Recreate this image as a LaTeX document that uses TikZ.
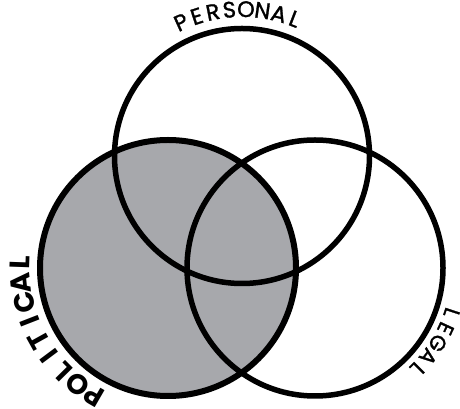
\documentclass[tikz,border=0pt]{standalone}
\usepackage{fontspec}
\setmainfont{Poppins}
\newfontfamily\medfont{Poppins}[FakeBold=1.3]
\definecolor{venngray}{RGB}{167,168,172}
\newlength\chw
% #1 centre, #2 baseline radius, #3 mid angle, #4 span (deg), #5 font, #6 letters, #7 name prefix
\newcommand\arclabel[7]{%
  \gdef\arctot{0}\gdef\arcn{0}%
  \foreach \ch in {#6}{%
    \settowidth\chw{#5\ch}%
    \pgfmathsetmacro\tmp{\arctot+\chw}\xdef\arctot{\tmp}%
    \pgfmathsetmacro\tmp{\arcn+1}\xdef\arcn{\tmp}%
  }%
  \pgfmathsetmacro\tmp{(rad(#4)*#2-\arctot)/(\arcn-1)}\xdef\arctrk{\tmp}%
  \pgfmathsetmacro\tmp{#3+#4/2}\xdef\arcang{\tmp}%
  \foreach \ch [count=\i] in {#6}{%
    \settowidth\chw{#5\ch}%
    \pgfmathsetmacro\ang{\arcang-deg(\chw/2/#2)}%
    \node[inner sep=0pt,anchor=base,font=#5,rotate=\ang-90] (#7\i) at ([shift={(\ang:#2)}]#1) {\ch};%
    \pgfmathsetmacro\tmp{\arcang-deg((\chw+\arctrk)/#2)}\xdef\arcang{\tmp}%
  }%
}
\begin{document}
\begin{tikzpicture}[x=1pt,y=1pt,
  ring/.style={draw=black,line width=5.5pt}]
\useasboundingbox (0,0) rectangle (460,409);
\coordinate (cP) at (242,253);
\coordinate (cL) at (168,141);
\coordinate (cR) at (315,141);
\fill[venngray] (cL) circle[radius=128];
\draw[ring] (cP) circle[radius=127.5];
\draw[ring] (cR) circle[radius=128];
\draw[ring,line width=6pt] (cL) circle[radius=128];
\arclabel{cP}{139}{91.7}{45.5}{\medfont\fontsize{22.5}{22.5}\selectfont}{P,E,R,S,O,N,A,L}{per}
\arclabel{cL}{138}{209}{62}{\fontsize{28}{28}\selectfont\bfseries}{P,O,L,I,T,I,C,A,L}{pol}
\arclabel{cR}{136.5}{-31.5}{26.5}{\medfont\fontsize{21.5}{21.5}\selectfont}{L,E,G,A,L}{leg}
\end{tikzpicture}
\end{document}
